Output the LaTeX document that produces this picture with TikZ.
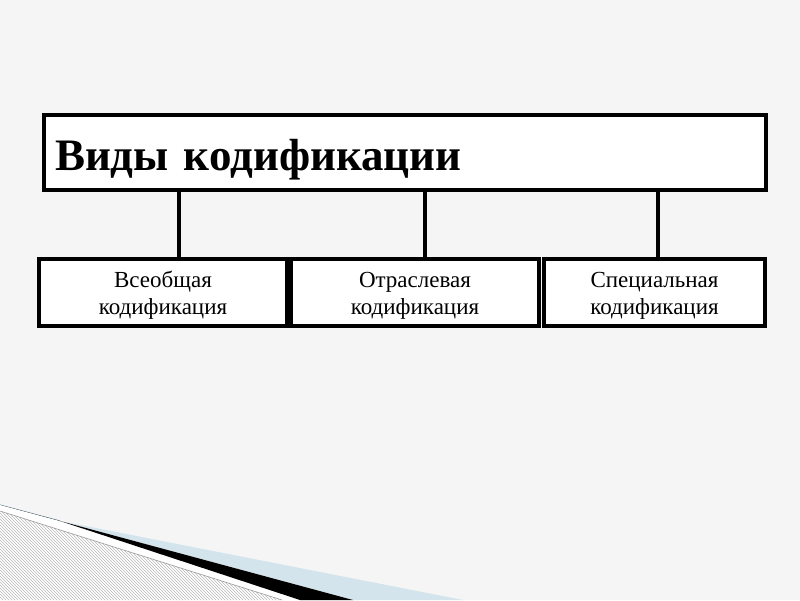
\documentclass[tikz,border=0pt]{standalone}
\usepackage{fontspec}
\setmainfont{Liberation Serif}
\usetikzlibrary{patterns}
\definecolor{bgc}{HTML}{F5F5F5}
\definecolor{lblue}{HTML}{D3E4EC}
\definecolor{tealline}{HTML}{2F4F5A}
\tikzset{
  topbox/.style={draw=black, line width=3.5pt, fill=white, minimum width=722pt, minimum height=75pt, text width=700pt, inner xsep=10pt, align=left, text height=35pt, text depth=0pt, font=\fontsize{45}{48}\selectfont\bfseries},
  subbox/.style={draw=black, line width=3.5pt, fill=white, minimum height=67pt, align=center, text height=43pt, text depth=0pt, font=\fontsize{23}{27}\selectfont},
  link/.style={line width=3.5pt, black}
}
\begin{document}
\begin{tikzpicture}[x=1pt,y=-1pt]
\useasboundingbox (0,0) rectangle (800,600);
\fill[bgc] (0,0) rectangle (800,600);
% bottom-left decoration
\fill[white] (0,511) -- (282,600) -- (0,600) -- cycle;
\fill[pattern=north west lines, pattern color=gray!55] (0,511) -- (282,600) -- (0,600) -- cycle;
\draw[tealline, line width=0.8pt] (0,505) -- (60,521);
\fill[white] (0,505) -- (353,600) -- (282,600) -- (0,511) -- cycle;
\fill[lblue] (60,521) -- (463,600) -- (353,600) -- cycle;
\fill[black] (60,521) -- (353,600) -- (300,600) -- cycle;
\draw[gray!80, line width=0.6pt] (0,511) -- (282,600);
% nodes
\node[topbox] (top) at (405,152.5) {Виды кодификации};
\node[subbox, minimum width=248pt] (b1) at (163,292.5) {Всеобщая\\кодификация};
\node[subbox, minimum width=248pt] (b2) at (415,292.5) {Отраслевая\\кодификация};
\node[subbox, minimum width=221pt] (b3) at (654.5,292.5) {Специальная\\кодификация};
\coordinate (c1) at (179,0);
\coordinate (c2) at (425,0);
\coordinate (c3) at (658,0);
\draw[link] (top.south -| c1) -- (b1.north -| c1);
\draw[link] (top.south -| c2) -- (b2.north -| c2);
\draw[link] (top.south -| c3) -- (b3.north -| c3);
\end{tikzpicture}
\end{document}
